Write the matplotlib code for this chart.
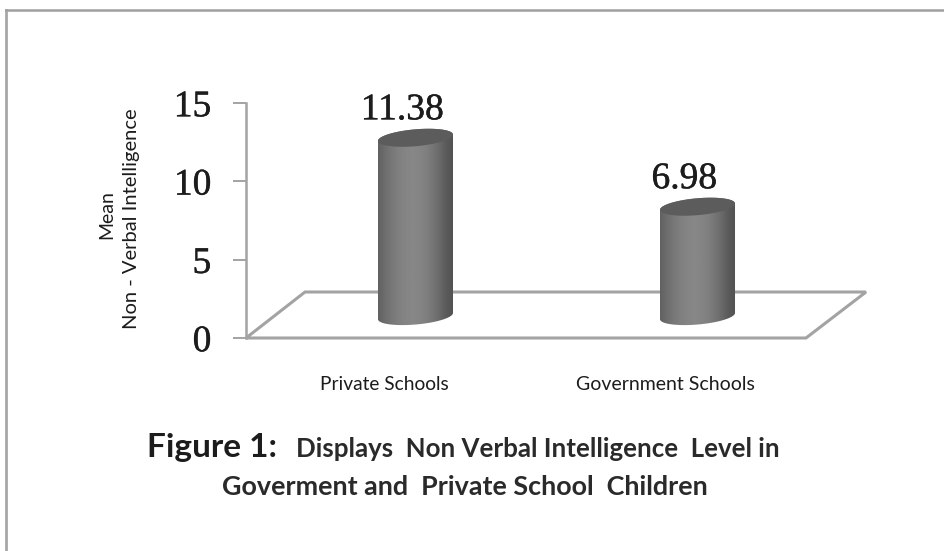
import numpy as np
import matplotlib
matplotlib.use("Agg")
import matplotlib.pyplot as plt
import matplotlib.patheffects as pe
from matplotlib.patches import PathPatch, Polygon
from matplotlib.path import Path

W, H = 945, 551
categories = ["Private Schools", "Government Schools"]
means = [11.38, 6.98]
value_labels = ["11.38", "6.98"]
y_ticks = [0, 5, 10, 15]

GREY = "#a3a3a3"
TEXT = "#1c1c1c"
SANS = "Lato"
SERIF = "Liberation Serif"
HEAVY = [pe.withStroke(linewidth=0.3, foreground=TEXT)]

fig = plt.figure(figsize=(W / 100, H / 100), dpi=100, facecolor="white")


def px_axes(left, top, right, bottom):
    return [left / W, 1 - bottom / H, (right - left) / W, (bottom - top) / H]


# page frame, open on the right and at the bottom
fig.add_artist(plt.Line2D([6.5 / W, 6.5 / W], [0, 1 - 9.5 / H], color="#a8a8a8", lw=2.0))
fig.add_artist(plt.Line2D([6.5 / W, 1], [1 - 9.5 / H, 1 - 9.5 / H], color="#a0a0a0", lw=1.8))

ax = fig.add_axes(px_axes(246, 103, 866, 338))
ax.patch.set_alpha(0)
x_min, x_max = -0.601, 1.5975
y_min, y_max = 0, 15
for side in ["top", "right", "bottom"]:
    ax.spines[side].set_visible(False)
ax.spines["left"].set_color(GREY)
ax.spines["left"].set_linewidth(1.8)
ax.set_yticks(y_ticks)
ax.set_yticklabels([str(t) for t in y_ticks], fontfamily=SERIF, fontsize=27, color=TEXT,
                   path_effects=HEAVY)
ax.tick_params(axis="y", length=9.5, width=1.4, color=GREY, pad=15.5)
ax.set_xticks([])

# floor of the pseudo-3D plot area
floor = Polygon(
    [(0, 0), (59 / 620, 46 / 235), (1, 46 / 235), (560 / 620, 0)],
    closed=True, transform=ax.transAxes, fill=False, edgecolor=GREY,
    lw=2.2, clip_on=False, joinstyle="miter", zorder=1,
)
ax.add_patch(floor)

# cylinders
half_w = 0.133
semi_h = 0.54
tilt = 0.2
floor_lift = 1.4
label_gap = 1.18
label_shift = -0.047
t = np.linspace(0, 2 * np.pi, 121)
shade = np.array([0.38, 0.43, 0.47, 0.50, 0.52, 0.53, 0.52, 0.50, 0.46, 0.41, 0.35, 0.32])
shade = np.interp(np.linspace(0, 1, 200), np.linspace(0, 1, shade.size), shade)[None, :]

for i, (value, label) in enumerate(zip(means, value_labels)):
    base = floor_lift
    top = floor_lift + value
    # outline: lower rim, then up the right side and back over the upper rim
    low = np.linspace(np.pi, 2 * np.pi, 60)
    high = np.linspace(0, np.pi, 60)
    xs = np.r_[i + half_w * np.cos(low), i + half_w * np.cos(high)]
    ys = np.r_[base + semi_h * np.sin(low) + tilt * np.cos(low),
               top + semi_h * np.sin(high) + tilt * np.cos(high)]
    outline = Path(np.c_[xs, ys])
    clip = PathPatch(outline, transform=ax.transData, fc="none", ec="none")
    ax.add_patch(clip)
    img = ax.imshow(shade, cmap="gray", vmin=0, vmax=1, aspect="auto", zorder=2,
                    extent=(i - half_w, i + half_w, base - 1, top + 1),
                    interpolation="bilinear")
    img.set_clip_path(clip)
    # darker cap on top of the body
    ax.fill(i + half_w * np.cos(t), top + semi_h * np.sin(t) + tilt * np.cos(t),
            color="#5c5c5c", lw=0, zorder=3)
    ax.text(i + label_shift, top + label_gap, label, ha="center", va="baseline",
            fontfamily=SERIF, fontsize=27, color=TEXT, clip_on=False, path_effects=HEAVY)

ax.set_xlim(x_min, x_max)
ax.set_ylim(y_min, y_max)

# category labels sit below the floor
ax.text(-0.112, -2.95, categories[0], ha="center", va="center",
        fontfamily=SANS, fontsize=13.8, color=TEXT, clip_on=False)
ax.text(0.887, -2.95, categories[1], ha="center", va="center",
        fontfamily=SANS, fontsize=14, color=TEXT, clip_on=False)

# axis title in two rotated lines
fig.text(107 / W, 1 - 214.5 / H, "Mean", rotation=90, ha="center", va="center",
         fontfamily=SANS, fontsize=14, color=TEXT)
fig.text(132 / W, 1 - 218.5 / H, "Non - Verbal Intelligence", rotation=90, ha="center",
         va="center", fontfamily=SANS, fontsize=14.5, color=TEXT)

# caption
fig.text(147 / W, 1 - 447 / H, "Figure 1:", ha="left", va="center", fontfamily=SANS,
         fontweight="bold", fontsize=24, color=TEXT)
fig.text(296 / W, 1 - 449 / H, "Displays  Non Verbal Intelligence  Level in", ha="left",
         va="center", fontfamily=SANS, fontweight="bold", fontsize=18.6, color="#2a2a2a")
fig.text(222 / W, 1 - 487 / H, "Goverment and  Private School  Children", ha="left",
         va="center", fontfamily=SANS, fontweight="bold", fontsize=19.4, color="#2a2a2a")

fig.savefig("out.png", dpi=100)
